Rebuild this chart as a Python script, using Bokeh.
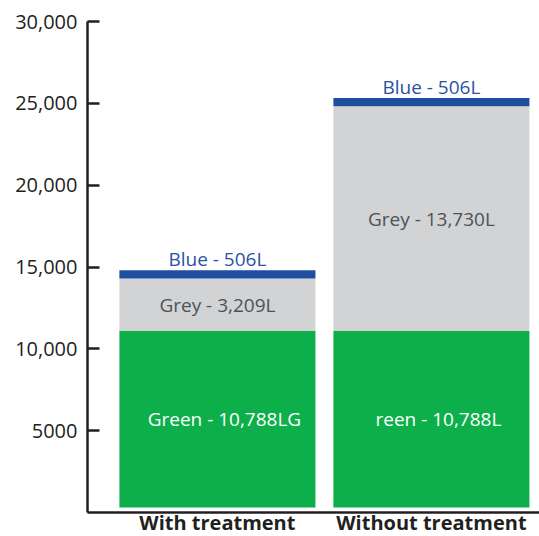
import numpy as np
from bokeh.plotting import figure
from bokeh.models import Range1d, FixedTicker, ColumnDataSource
from bokeh.embed import file_html
from bokeh.resources import INLINE
from bokeh.core.properties import value

# ---- data ----
categories = ["With treatment", "Without treatment"]
green = [10788, 10788]
grey = [3209, 13730]
blue = [506, 506]
green_labels = ["Green - 10,788LG", "reen - 10,788L"]
grey_labels = ["Grey - 3,209L", "Grey - 13,730L"]
blue_labels = ["Blue - 506L", "Blue - 506L"]
y_ticks = [5000, 10000, 15000, 20000, 25000, 30000]
y_tick_labels = ["5000", "10,000", "15,000", "20,000", "25,000", "30,000"]

bar_base = 300
FONT = "Open Sans"

x = np.arange(len(categories))
g_top = bar_base + np.array(green)
gr_top = g_top + np.array(grey)
b_top = gr_top + np.array(blue)

src = ColumnDataSource(dict(
    x=x, base=[bar_base] * len(x), g_top=g_top, gr_top=gr_top, b_top=b_top,
    g_mid=(bar_base + g_top) / 2, gr_mid=(g_top + gr_top) / 2,
    gl=green_labels, grl=grey_labels, bl=blue_labels,
))

p = figure(frame_width=452, frame_height=491, output_backend="svg", toolbar_location=None,
           x_range=Range1d(-0.607, 1.505), y_range=Range1d(0, 30000),
           min_border_left=87, min_border_top=21, min_border_right=0,
           min_border_bottom=10)
p.outline_line_color = None
p.grid.visible = False
p.background_fill_color = "white"
p.border_fill_color = "white"

w = 0.916
p.vbar(x="x", bottom="base", top="g_top", width=w, source=src,
       fill_color="#0daf4b", line_color=None)
p.vbar(x="x", bottom="g_top", top="gr_top", width=w, source=src,
       fill_color="#d1d3d4", line_color=None)
p.vbar(x="x", bottom="gr_top", top="b_top", width=w, source=src,
       fill_color="#1f4e9f", line_color=None)

p.text(x="x", y="g_mid", text="gl", source=src, text_align="center",
       text_baseline="middle", x_offset=7, text_color="white",
       text_font=value(FONT), text_font_size="19px")
p.text(x="x", y="gr_mid", text="grl", source=src, text_align="center",
       text_baseline="middle", text_color="#4d5259",
       text_font=value(FONT), text_font_size="19px")
p.text(x="x", y="b_top", text="bl", source=src, text_align="center",
       text_baseline="middle", y_offset=-11, text_color="#2a52a4",
       text_font=value(FONT), text_font_size="19px")

# y axis
ya = p.yaxis[0]
ya.ticker = FixedTicker(ticks=y_ticks)
ya.major_label_overrides = {t: l for t, l in zip(y_ticks, y_tick_labels)}
ya.major_tick_in = 12
ya.major_tick_out = 0
ya.minor_tick_in = 0
ya.minor_tick_out = 0
ya.axis_line_width = 2.5
ya.major_tick_line_width = 2.5
ya.axis_line_color = "#231f20"
ya.major_tick_line_color = "#231f20"
ya.major_label_text_font = FONT
ya.major_label_text_font_size = "20px"
ya.major_label_text_color = "#231f20"
ya.major_label_standoff = 10

# x axis
xa = p.xaxis[0]
xa.ticker = FixedTicker(ticks=list(x))
xa.major_label_overrides = {int(i): c for i, c in zip(x, categories)}
xa.major_tick_in = 0
xa.major_tick_out = 0
xa.minor_tick_in = 0
xa.minor_tick_out = 0
xa.axis_line_width = 2.5
xa.axis_line_color = "#231f20"
xa.major_label_text_font = FONT
xa.major_label_text_font_style = "bold"
xa.major_label_text_font_size = "20px"
xa.major_label_text_color = "#231f20"
xa.major_label_standoff = -4

open("out.html", "w").write(file_html(p, INLINE))
